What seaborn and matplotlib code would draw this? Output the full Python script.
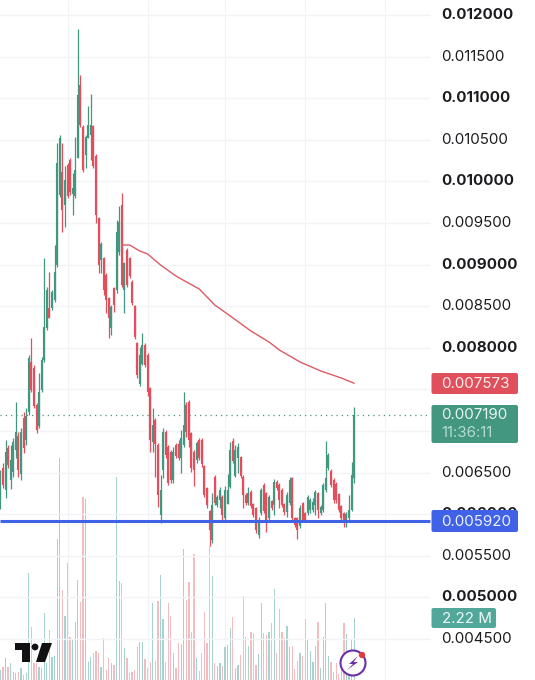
import matplotlib
matplotlib.use("Agg")
import matplotlib.pyplot as plt
import seaborn as sns
import pandas as pd
from matplotlib.patches import FancyBboxPatch, Polygon, Circle

sns.set_theme(style="white")
plt.rcParams['font.family'] = ['Inter', 'DejaVu Sans']

# prices in millionths
highs = [6531,6615,6891,6831,6831,6915,7348,6987,7036,7228,7276,7913,8117,7793,7336,7697,7889,9079,8730,8911,
         8694,9235,10461,10557,10461,10185,10221,10281,10100,10533,11831,11278,10677,10557,10906,11050,10677,10329,9572,9271,
         9091,8899,8610,8514,8730,9536,9704,9860,9031,9199,9091,8814,8514,8069,8009,8177,8057,7937,7528,7276,
         7156,6855,6471,7036,7011,6831,6771,6807,6855,6891,7011,7468,7348,7372,6987,6771,6879,6915,6915,6591,
         6326,6050,6254,6471,6230,6326,6230,6338,6483,6867,6915,6831,6855,6699,6471,6254,6326,6290,6134,6086,
         5966,6314,6374,6266,6230,6170,6422,6410,6374,6314,6134,6266,6447,6447,5966,5966,6110,6146,6026,6230,
         6194,6194,6290,6266,6110,6374,6879,6735,6543,6435,6386,6254,6110,6026,6026,6230,6627,7288]
lows = [6062,6314,6194,6555,6302,6447,6675,6447,6410,6735,6831,7192,7468,7276,6975,7036,7468,7829,8213,8358,
        8454,8550,8971,9812,9391,9451,9800,9836,9596,9800,10281,10653,10113,10161,10521,10257,10161,9500,8899,8899,
        8634,8418,8117,8153,8430,8658,9115,8730,8418,8730,8838,8514,8105,7636,7540,7793,7769,7420,6747,6747,
        6447,6086,5893,6435,6675,6350,6374,6374,6675,6651,6495,6807,6927,6807,6507,6338,6615,6651,6567,6206,
        6074,5617,5653,6110,6086,6074,5930,5930,6122,6314,6615,6447,6495,6435,6074,6110,6110,6074,5966,5773,
        5713,5990,6014,5785,5930,6050,5990,6290,6074,6086,5990,5966,6110,5930,5846,5701,5833,5906,5906,5990,
        6014,6026,5990,5954,5990,6026,6266,6531,6326,6134,6134,6026,5930,5846,5846,5930,6038,6374]
opens = [6170,6555,6290,6795,6411,6507,6771,6939,6483,7156,6891,7228,7829,7757,7312,7059,7492,7853,8237,8478,
         8478,8574,8995,9836,10113,9716,10197,10257,9848,9824,10281,11158,10653,10317,10521,10557,10665,10305,9560,9055,
         9079,8875,8598,8237,8718,8694,9151,9716,8694,9175,9079,8790,8502,8057,7564,7805,8033,7913,7516,6867,
         7132,6831,5990,6531,6987,6807,6747,6410,6831,6843,6675,6831,7312,7348,6975,6747,6651,6891,6891,6579,
         6314,6038,5689,6447,6110,6170,6206,5954,6122,6326,6879,6459,6675,6687,6447,6230,6134,6266,6122,6074,
         5749,6014,6350,6254,5954,6158,6110,6386,6350,6290,6122,6026,6134,6435,5954,5954,5858,6134,6014,6014,
         6050,6050,6110,6254,6014,6050,6290,6555,6519,6410,6362,6242,6098,6014,5906,5954,6050,6435]
closes = [6290,6350,6747,6590,6651,6867,6987,6531,6987,6795,7180,7877,7492,7300,7011,7468,7853,8250,8694,8358,
          8670,8911,10221,10521,9656,10017,9824,9872,9920,10137,11038,10677,10137,10533,10677,10677,10185,9596,8995,9247,
          8694,8574,8358,8490,8514,9391,9512,8754,9019,8754,8862,8538,8129,7672,7913,8033,7793,7468,6891,7072,
          6843,6230,6290,6987,6711,6374,6410,6747,6699,6675,6915,7072,6987,6891,6555,6531,6855,6675,6603,6230,
          6110,5809,6110,6134,6206,6290,5990,6290,6290,6771,6639,6771,6807,6459,6230,6134,6254,6098,5990,5809,
          5930,6290,6038,5930,6206,6074,6386,6314,6170,6110,6026,6230,6410,5954,5870,5809,6074,5930,5930,6206,
          6170,6146,6266,6050,6086,6350,6435,6711,6350,6170,6170,6050,5954,5894,6002,6050,6471,7190]
volumes = [.36,.48,.77,.48,.60,.30,.24,.30,.42,.18,.24,3.81,1.90,.60,.60,.48,.42,2.38,.60,1.79,
           .83,.86,5.02,7.92,3.21,2.29,4.19,1.55,1.43,2.08,3.57,2.80,6.55,6.45,.65,.83,.95,1.04,.95,.48,
           1.49,.36,.77,.60,.54,7.26,3.54,3.48,1.13,.77,.26,.30,.36,1.19,1.35,1.35,.74,.42,.65,2.74,
           .69,2.83,3.75,2.18,.65,2.76,2.29,.98,.42,1.31,1.29,4.67,2.86,3.49,1.73,4.49,.77,.33,.95,2.44,
           1.33,4.80,3.71,.62,.50,.60,.51,1.19,1.25,1.85,2.26,.42,.54,.89,3.01,1.52,1.21,1.70,1.67,.54,
           .92,2.76,1.69,1.61,1.70,2.02,3.25,.98,2.52,1.73,1.51,1.94,1.19,1.21,.38,.68,.98,.86,2.17,1.43,
           1.05,.65,1.23,2.06,.42,1.52,2.74,.86,.63,.30,.62,.21,.60,2.02,1.64,1.07,1.43,2.22]
ma_index = [47,50,54,57,62,68,70,77,83,89,97,104,108,116,124,132,137]
ma_values = [9235,9235,9163,9127,8995,8862,8826,8706,8514,8382,8201,8069,7973,7829,7721,7636,7573]

price_ticks = [12000,11500,11000,10500,10000,9500,9000,8500,8000,7500,6500,6000,5500,5000,4500]
price_labels = ["0.012000","0.011500","0.011000","0.010500","0.010000","0.009500","0.009000","0.008500",
                "0.008000","0.007500","0.006500","0.006000","0.005500","0.005000","0.004500"]
grid_ticks = [12000,11500,11000,10500,10000,9500,9000,8500,8000,7500,7000,6500,6000,5500,5000,4500]
bold_ticks = [12000,11000,10000,9000,8000,6000,5000]
time_ticks = [26,57,87,118,149]
last_price = 7190
support_price = 5920
ma_label, last_label, count_label, support_label, vol_label = "0.007573","0.007190","11:36:11","0.005920","2.22 M"

assert all(len(a) == 138 for a in (highs, lows, opens, closes, volumes))

GREEN, RED = "#44977f", "#e44e5c"
GRID = "#f1f3f6"
df = pd.DataFrame({"i": range(138), "high": highs, "low": lows, "open": opens,
                   "close": closes, "vol": volumes})
df["dir"] = ["up" if c >= o else "down" for o, c in zip(df.open, df.close)]
df["col"] = df.dir.map({"up": GREEN, "down": RED})

fig = plt.figure(figsize=(5.35, 6.8), dpi=100, facecolor="white")
ax_vol = fig.add_axes([0, 0, 1, 1])
ax = ax_vol.twinx()
ax.set_zorder(ax_vol.get_zorder() + 1)
ax.patch.set_visible(False)

XLIM = (-0.13, 206.97)
ax_vol.vlines(time_ticks, 0, 680 / 28, color=GRID, lw=0.8, zorder=0)
sns.barplot(data=df, x="i", y="vol", hue="dir", palette={"up": "#a6d3ce", "down": "#f3bcc0"},
            native_scale=True, dodge=False, width=0.5, saturation=1, linewidth=0, legend=False, ax=ax_vol)
ax_vol.set_xlim(*XLIM)
ax_vol.set_ylim(0, 680 / 28)

ax.set_xlim(*XLIM)
ax.set_ylim(4006, 12180)
ax.hlines(grid_ticks, XLIM[0], 166.3, color=GRID, lw=1.0, zorder=0)
ax.vlines(df.i, df.low, df.high, colors=df.col, lw=0.9, zorder=2)
ax.vlines(df.i, df.open, df.close, colors=df.col, lw=1.55, zorder=2)
sns.lineplot(x=ma_index, y=ma_values, color="#df5a62", lw=1.0, ax=ax, zorder=3, legend=False)
ax.hlines(last_price, XLIM[0], 166.3, color=GREEN, lw=0.9, linestyles=(0, (1, 3.2)), zorder=1)
ax.hlines(support_price, XLIM[0], 166.3, color="#3f62e6", lw=2.2, zorder=4)

for t, lab in zip(price_ticks, price_labels):
    ax.text(441.5 / 535, t, lab, transform=ax.get_yaxis_transform(), va="center", ha="left",
            fontsize=10.9, color="#1c1c20", fontweight="bold" if t in bold_ticks else "normal", zorder=5)

for a in (ax, ax_vol):
    a.set_xticks([]); a.set_yticks([]); a.set_xlabel(""); a.set_ylabel("")
    for s in a.spines.values():
        s.set_visible(False)

# overlay in image pixels
ov = fig.add_axes([0, 0, 1, 1], zorder=10)
ov.set_xlim(0, 535); ov.set_ylim(680, 0); ov.axis("off"); ov.patch.set_visible(False)

def box(x0, y0, x1, y1, color):
    ov.add_patch(FancyBboxPatch((x0 + 1.5, y0 + 1.5), x1 - x0 - 3, y1 - y0 - 3,
                                boxstyle="round,pad=1.5,rounding_size=2", fc=color, ec="none"))

box(431.5, 373, 518, 394, "#e0505c")
box(431.5, 405, 518, 443, "#439780")
box(431.5, 510, 518, 532, "#3f62e6")
box(431.5, 608, 496, 628, "#52a79b")
ov.text(441.5, 384, ma_label, color="#fdeeee", fontsize=10.9, va="center")
ov.text(441.5, 415, last_label, color="#e8f5f1", fontsize=10.9, va="center")
ov.text(441.5, 433, count_label, color="#b5dcd1", fontsize=10.9, va="center")
ov.text(441.5, 521.5, support_label, color="#eef1ff", fontsize=10.9, va="center")
ov.text(441.5, 619, vol_label, color="#eef8f6", fontsize=10.9, va="center")

# TradingView mark
ov.add_patch(Polygon([(14.5, 643), (29.5, 643), (29.5, 662), (22, 662), (22, 650), (14.5, 650)], fc="#111114", ec="none"))
ov.add_patch(Circle((35, 647), 3.4, fc="#111114", ec="none"))
ov.add_patch(Polygon([(42, 643), (52, 643), (45, 662), (36, 662)], fc="#111114", ec="none"))

# bolt badge
ov.add_patch(Circle((353, 663), 12.5, fc="white", ec="#6b2fa8", lw=1.5))
ov.add_patch(Polygon([(358, 656), (349, 664), (353, 664), (347, 670), (358, 662), (353.5, 662)], fc="#6b2fa8", ec="none"))
ov.add_patch(Circle((362, 655), 3.2, fc="#e03c3c", ec="none"))

fig.savefig("out.png", dpi=100, facecolor="white")
